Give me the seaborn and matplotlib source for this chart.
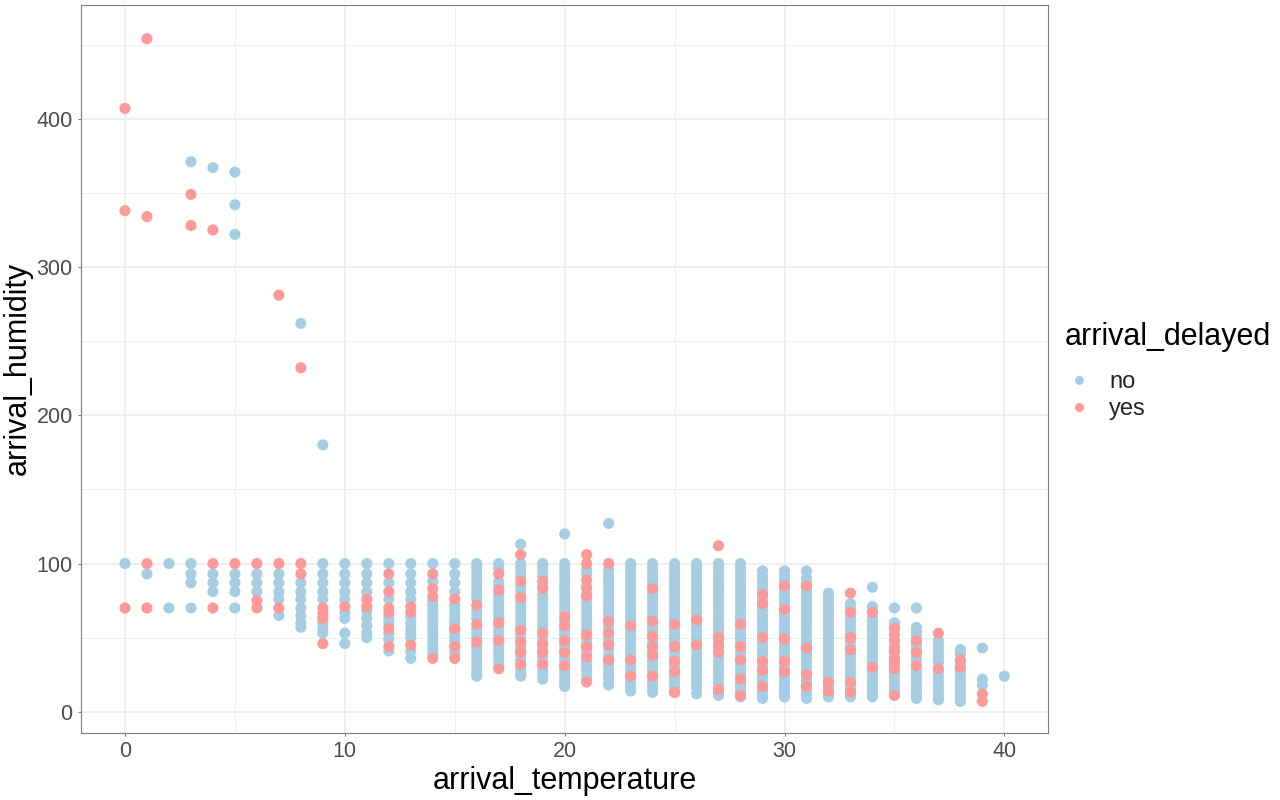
import numpy as np
import pandas as pd
import matplotlib
matplotlib.use("Agg")
import matplotlib.pyplot as plt
import seaborn as sns

# humidity readings per arrival temperature (0..40)
temperatures = list(range(41))

humidity_no = [
    [100],                                                         # 0
    [93],                                                          # 1
    [100, 70],                                                     # 2
    [100, 93, 87, 70, 371],                                        # 3
    [93, 87, 81, 367],                                             # 4
    [93, 87, 81, 70, 364, 342, 322],                               # 5
    [93, 87, 81],                                                  # 6
    [93, 87, 81, 76, 65],                                          # 7
    [87, 81, 76, 70, 65, 60, 57, 262],                             # 8
    [100, 93, 87, 81, 76, 60, 56, 53, 180],                        # 9
    [100, 93, 87, 81, 76, 67, 63, 53, 46],                         # 10
    [100, 93, 87, 81, 68, 63, 58, 53, 50],                         # 11
    [100, 87, 76, 64, 61, 58, 53, 49, 41],                         # 12
    [100, 93, 87, 81, 76, 64, 60, 56, 53, 50, 41, 36],             # 13
    [100, 88, 75, 72, 69, 66, 63, 60, 57, 54, 51, 48, 45, 42, 39], # 14
    [100, 93, 87, 81, 72, 69, 66, 63, 60, 57, 54, 51, 48, 45, 42, 39],  # 15
    [100, 97, 94, 91, 88, 85, 82, 79, 76, 69, 66, 63, 56, 53, 50, 44,
     41, 38, 35, 32, 29, 26, 24],                                  # 16
    [100, 97, 88, 85, 79, 76, 73, 70, 67, 64, 61, 58, 55, 52, 49, 46,
     43, 40, 37, 34, 31],                                          # 17
    [113, 100, 97, 94, 91, 85, 82, 79, 74, 71, 68, 65, 62, 59, 56, 53,
     50, 47, 44, 41, 38, 35, 32, 29, 26, 24],                      # 18
    [100, 97, 94, 91, 85, 79, 76, 73, 70, 67, 64, 61, 58, 55, 52, 49,
     46, 43, 40, 37, 34, 31, 28, 25, 22],                          # 19
    [120, 100, 97, 94, 91, 88, 85, 82, 79, 76, 73, 70, 67, 61, 58, 55,
     52, 49, 46, 43, 40, 37, 34, 31, 28, 25, 22, 19, 17],          # 20
    [96, 93, 85, 79, 76, 73, 70, 67, 64, 61, 58, 55, 52, 49, 46, 43,
     40, 37, 34, 31, 28, 25, 22],                                  # 21
    [127, 96, 93, 90, 87, 84, 81, 78, 75, 72, 69, 66, 63, 58, 55, 50,
     47, 42, 38, 35, 32, 29, 26, 23, 20, 18],                      # 22
    [100, 97, 94, 91, 88, 85, 82, 79, 76, 73, 70, 67, 64, 61, 58, 55,
     52, 49, 46, 43, 40, 37, 34, 31, 28, 25, 22, 19, 16, 14],      # 23
    [100, 97, 94, 91, 88, 85, 82, 79, 76, 73, 70, 67, 64, 61, 58, 55,
     52, 49, 46, 43, 40, 37, 34, 31, 28, 25, 22, 19, 16, 13],      # 24
    [100, 97, 94, 91, 88, 85, 82, 79, 76, 73, 70, 67, 64, 61, 58, 55,
     52, 49, 46, 43, 40, 37, 34, 31, 28, 25, 22, 19, 16, 13],      # 25
    [100, 97, 94, 91, 88, 85, 82, 79, 76, 73, 70, 67, 64, 61, 58, 55,
     52, 49, 46, 43, 40, 37, 34, 31, 28, 25, 22, 19, 16, 12],      # 26
    [100, 97, 94, 91, 88, 85, 82, 79, 76, 73, 70, 67, 64, 61, 58, 55,
     52, 49, 46, 43, 40, 37, 34, 31, 28, 25, 22, 19, 16, 13, 11],  # 27
    [100, 97, 94, 91, 88, 85, 82, 79, 76, 73, 70, 67, 64, 61, 58, 55,
     52, 49, 46, 43, 40, 37, 34, 31, 28, 25, 22, 19, 16, 13, 10],  # 28
    [95, 92, 89, 86, 83, 80, 77, 74, 71, 68, 65, 62, 59, 56, 53, 50,
     47, 44, 41, 38, 35, 32, 29, 26, 23, 20, 17, 14, 11, 9],       # 29
    [95, 92, 89, 86, 83, 80, 77, 74, 71, 68, 65, 62, 59, 56, 53, 50,
     47, 44, 41, 38, 35, 32, 29, 26, 23, 20, 17, 14, 12, 10],      # 30
    [95, 90, 87, 84, 81, 78, 75, 72, 69, 66, 63, 60, 57, 54, 51, 48,
     45, 42, 39, 36, 33, 30, 27, 24, 21, 18, 15, 12, 9],           # 31
    [80, 77, 74, 71, 68, 65, 62, 59, 56, 53, 50, 47, 44, 41, 38, 35,
     32, 29, 26, 23, 20, 17, 14, 12, 10],                          # 32
    [73, 70, 64, 61, 58, 55, 52, 47, 44, 39, 36, 33, 30, 27, 24, 21,
     18, 15, 12, 10],                                              # 33
    [84, 71, 68, 64, 61, 58, 55, 52, 49, 46, 43, 40, 37, 34, 31, 28,
     25, 22, 19, 16, 13, 10],                                      # 34
    [70, 60, 57, 42, 34, 26, 23, 20, 17, 14, 11],                  # 35
    [70, 57, 54, 51, 45, 42, 37, 34, 28, 25, 22, 19, 16, 13, 11, 9],  # 36
    [48, 45, 42, 39, 36, 33, 27, 24, 21, 18, 15, 12, 10, 8],       # 37
    [42, 39, 33, 28, 25, 22, 19, 16, 13, 10, 7],                   # 38
    [43, 22, 18],                                                  # 39
    [24],                                                          # 40
]

humidity_yes = [
    [70, 338, 407],               # 0
    [100, 70, 334, 454],          # 1
    [],                           # 2
    [349, 328],                   # 3
    [100, 70, 325],               # 4
    [100],                        # 5
    [100, 75, 70],                # 6
    [100, 70, 281],               # 7
    [100, 93, 232],               # 8
    [70, 66, 63, 46],             # 9
    [71],                         # 10
    [76, 71],                     # 11
    [93, 81, 70, 67, 56, 44],     # 12
    [71, 67, 45],                 # 13
    [93, 83, 78, 36],             # 14
    [76, 56, 44, 36],             # 15
    [72, 59, 47],                 # 16
    [93, 82, 60, 48, 29],         # 17
    [106, 88, 77, 55, 47, 40, 32],  # 18
    [88, 83, 53, 46, 40, 32],     # 19
    [64, 58, 48, 40, 31],         # 20
    [106, 100, 89, 83, 78, 52, 44, 37, 20],  # 21
    [100, 61, 53, 45, 35],        # 22
    [58, 35, 24],                 # 23
    [83, 61, 51, 44, 38, 24],     # 24
    [59, 44, 34, 27, 13],         # 25
    [62, 45],                     # 26
    [112, 50, 45, 40, 15],        # 27
    [59, 44, 35, 22, 11],         # 28
    [79, 73, 50, 34, 28, 17],     # 29
    [85, 69, 49, 34, 27],         # 30
    [85, 43, 25, 17],             # 31
    [20, 14],                     # 32
    [80, 67, 50, 42, 20, 13],     # 33
    [67, 30],                     # 34
    [56, 52, 48, 44, 40, 36, 32, 29, 11],  # 35
    [48, 40, 31],                 # 36
    [53, 29],                     # 37
    [35, 30],                     # 38
    [12, 7],                      # 39
    [],                           # 40
]

delay_colors = {"no": "#A6CEE3", "yes": "#FB9A99"}


def build_frame():
    rows = []
    for label, table in (("no", humidity_no), ("yes", humidity_yes)):
        for t, vals in zip(temperatures, table):
            for v in vals:
                rows.append((t, v, label))
    return pd.DataFrame(rows, columns=["arrival_temperature",
                                       "arrival_humidity",
                                       "arrival_delayed"])


df = build_frame()

sns.set_theme(style="white")
plt.rcParams["font.family"] = ["Liberation Sans", "DejaVu Sans"]

fig, ax = plt.subplots(figsize=(12.8, 8), dpi=100)
fig.subplots_adjust(left=0.0633, right=0.819, top=0.994, bottom=0.084)

sns.scatterplot(data=df, x="arrival_temperature", y="arrival_humidity",
                hue="arrival_delayed", palette=delay_colors,
                hue_order=["no", "yes"], s=64, linewidth=0, ax=ax)

ax.set_xlim(-2, 42)
ax.set_ylim(-14.2, 476.9)
ax.set_xticks([0, 10, 20, 30, 40])
ax.set_yticks([0, 100, 200, 300, 400])
ax.set_xticks([5, 15, 25, 35], minor=True)
ax.set_yticks([50, 150, 250, 350, 450], minor=True)
ax.grid(which="major", color="#EBEBEB", linewidth=1.1)
ax.grid(which="minor", color="#EBEBEB", linewidth=0.55)
ax.set_axisbelow(True)

ax.tick_params(which="major", length=2.5, width=0.8, color="#7F7F7F",
               labelsize=15.5, labelcolor="#4D4D4D", pad=3.5, direction="out",
               bottom=True, left=True)
ax.tick_params(which="minor", length=0)
for sp in ax.spines.values():
    sp.set_color("#7F7F7F")
    sp.set_linewidth(0.8)

ax.set_xlabel("arrival_temperature", fontsize=22, color="black", labelpad=3)
ax.set_ylabel("arrival_humidity", fontsize=22, color="black", labelpad=3)

# legend title is drawn as its own text so the gap to the keys matches
fig.text(1065 / 1280, 1 - 345 / 800, "arrival_delayed", fontsize=22,
         color="black", ha="left", va="baseline")
sns.move_legend(ax, "center left", bbox_to_anchor=(1053 / 1280, 1 - 395.5 / 800),
                bbox_transform=fig.transFigure, frameon=False, title="",
                fontsize=17, borderpad=0, handlelength=1.2,
                handletextpad=0.68, labelspacing=0.22, markerscale=0.8)

fig.savefig("out.png", dpi=100)
